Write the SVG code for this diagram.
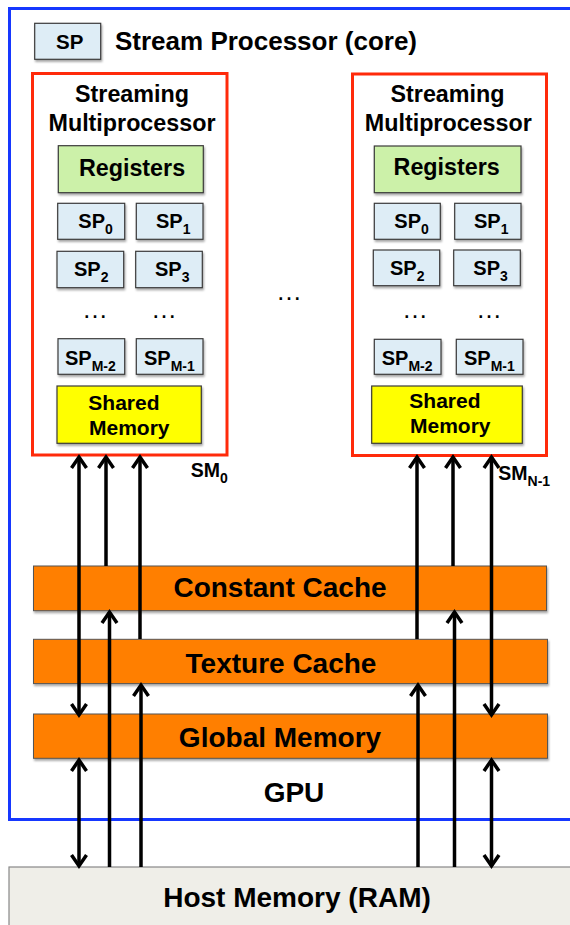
<svg xmlns="http://www.w3.org/2000/svg" width="570" height="925" viewBox="0 0 570 925">
<style>
text{font-family:"Liberation Sans",Arial,sans-serif;font-weight:bold;fill:#000}
.sp{fill:#deedf6;stroke:#3a3a3a;stroke-width:1.2}
.reg{fill:#ccf1a9;stroke:#3a3a3a;stroke-width:1.2}
.shm{fill:#ffff00;stroke:#3a3a3a;stroke-width:1.2}
.sm{fill:#fff;stroke:#ff2a0a;stroke-width:3}
.bar{fill:#ff7f00;stroke:#555;stroke-width:1}
.spt{font-size:20px}
.sub{font-size:14px}
.dots{font-weight:normal;font-size:26px;text-anchor:middle}
.big{font-size:28px;text-anchor:middle}
.smt{font-size:23.3px;text-anchor:middle}
.shr{font-size:21px}
.c{fill:none;stroke:#000;stroke-width:3.5}
</style>
<defs>
<filter id="sh" x="-10%" y="-10%" width="130%" height="140%">
<feDropShadow dx="1" dy="2" stdDeviation="1.2" flood-color="#000" flood-opacity="0.35"/>
</filter>
<marker id="ah" viewBox="-12 -10 14 20" markerWidth="14" markerHeight="20" markerUnits="userSpaceOnUse" refX="0" refY="0" orient="auto-start-reverse" overflow="visible">
<path d="M-11,-7.5 L0,0 L-11,7.5" fill="none" stroke="#000" stroke-width="3.5" stroke-linejoin="miter"/>
</marker>
</defs>
<rect width="570" height="925" fill="#fff"/>

<g id="host">
<rect x="9" y="867" width="575" height="70" fill="#efeee8" stroke="#888" stroke-width="1.2"/>
<text class="big" x="297" y="907">Host Memory (RAM)</text>
</g>

<g id="gpu">
<rect x="9.5" y="8.5" width="580" height="811" fill="none" stroke="#1638ff" stroke-width="3"/>
<text class="big" x="294" y="802">GPU</text>
</g>

<g id="legend">
<rect class="sp" x="34.7" y="23.3" width="66" height="36" filter="url(#sh)"/>
<text class="spt" x="56" y="49.3" style="font-size:20.5px">SP</text>
<text x="115" y="50" style="font-size:26px">Stream Processor (core)</text>
</g>

<g id="sm0">
<rect class="sm" x="32.5" y="73.5" width="194.5" height="381.5"/>
<text class="smt" x="132" y="101.7">Streaming</text>
<text class="smt" x="132" y="130.7">Multiprocessor</text>
<rect class="reg" x="58.3" y="145.7" width="145" height="47" filter="url(#sh)"/>
<text class="smt" x="132" y="176">Registers</text>
<rect class="sp" x="57.7" y="203.3" width="67" height="36" filter="url(#sh)"/>
<text class="spt" x="78.3" y="228.3">SP<tspan class="sub" dy="6">0</tspan></text>
<rect class="sp" x="136.3" y="203.3" width="66.7" height="36" filter="url(#sh)"/>
<text class="spt" x="156" y="228.3">SP<tspan class="sub" dy="6">1</tspan></text>
<rect class="sp" x="57" y="251.3" width="66.7" height="36.4" filter="url(#sh)"/>
<text class="spt" x="74" y="276">SP<tspan class="sub" dy="6">2</tspan></text>
<rect class="sp" x="135.7" y="251.3" width="66.6" height="36.4" filter="url(#sh)"/>
<text class="spt" x="155" y="276">SP<tspan class="sub" dy="6">3</tspan></text>
<text class="dots" x="95" y="317.5">…</text>
<text class="dots" x="164" y="317.5">…</text>
<rect class="sp" x="58" y="338.7" width="66.7" height="35.6" filter="url(#sh)"/>
<text class="spt" x="65" y="365">SP<tspan class="sub" dy="6">M-2</tspan></text>
<rect class="sp" x="136.3" y="338.7" width="66.7" height="35.6" filter="url(#sh)"/>
<text class="spt" x="144" y="365">SP<tspan class="sub" dy="6">M-1</tspan></text>
<rect class="shm" x="57" y="386" width="144.3" height="57.3" filter="url(#sh)"/>
<text class="shr" x="88.3" y="410">Shared</text>
<text class="shr" x="89" y="435">Memory</text>
<text x="190.7" y="477.3" style="font-size:19.5px">SM<tspan style="font-size:14px" dy="6">0</tspan></text>
</g>

<g id="smN">
<rect class="sm" x="352.5" y="74" width="194" height="381.5"/>
<text class="smt" x="447.5" y="101.7">Streaming</text>
<text class="smt" x="448.3" y="131">Multiprocessor</text>
<rect class="reg" x="374.3" y="146" width="146.7" height="46.7" filter="url(#sh)"/>
<text class="smt" x="446.7" y="175">Registers</text>
<rect class="sp" x="374.3" y="203.3" width="66" height="36" filter="url(#sh)"/>
<text class="spt" x="394.3" y="228.3">SP<tspan class="sub" dy="6">0</tspan></text>
<rect class="sp" x="454.7" y="203.3" width="66.3" height="36" filter="url(#sh)"/>
<text class="spt" x="474" y="228.3">SP<tspan class="sub" dy="6">1</tspan></text>
<rect class="sp" x="373.3" y="250" width="66.4" height="35.7" filter="url(#sh)"/>
<text class="spt" x="390" y="275">SP<tspan class="sub" dy="6">2</tspan></text>
<rect class="sp" x="453.7" y="250" width="66.6" height="35.7" filter="url(#sh)"/>
<text class="spt" x="473.3" y="275">SP<tspan class="sub" dy="6">3</tspan></text>
<text class="dots" x="415" y="317.5">…</text>
<text class="dots" x="489" y="317.5">…</text>
<rect class="sp" x="374.3" y="339.3" width="66.7" height="35" filter="url(#sh)"/>
<text class="spt" x="381.7" y="365">SP<tspan class="sub" dy="6">M-2</tspan></text>
<rect class="sp" x="456.3" y="339.3" width="66.7" height="35" filter="url(#sh)"/>
<text class="spt" x="464" y="365">SP<tspan class="sub" dy="6">M-1</tspan></text>
<rect class="shm" x="371.7" y="386" width="150.6" height="57.3" filter="url(#sh)"/>
<text class="shr" x="409.3" y="408.3">Shared</text>
<text class="shr" x="410" y="433.3">Memory</text>
<text x="498.3" y="480" style="font-size:19.5px">SM<tspan style="font-size:14px" dy="6">N-1</tspan></text>
</g>

<text class="dots" x="289" y="299.5">…</text>

<g id="constant-cache">
<rect class="bar" x="33.5" y="566" width="513" height="44.7" filter="url(#sh)"/>
<text class="big" x="280" y="596.7">Constant Cache</text>
</g>
<g id="texture-cache">
<rect class="bar" x="33.5" y="639.3" width="514" height="44.3" filter="url(#sh)"/>
<text class="big" x="281" y="672.7">Texture Cache</text>
</g>
<g id="global-memory">
<rect class="bar" x="33.5" y="714" width="514" height="44.3" filter="url(#sh)"/>
<text class="big" x="280" y="746.7">Global Memory</text>
</g>

<g id="connectors">
<line class="c" x1="79" y1="457" x2="79" y2="715" marker-start="url(#ah)" marker-end="url(#ah)"/>
<line class="c" x1="79" y1="760" x2="79" y2="866" marker-start="url(#ah)" marker-end="url(#ah)"/>
<line class="c" x1="106" y1="566" x2="106" y2="457" marker-end="url(#ah)"/>
<line class="c" x1="109.5" y1="867" x2="109.5" y2="612" marker-end="url(#ah)"/>
<line class="c" x1="140" y1="639" x2="140" y2="457" marker-end="url(#ah)"/>
<line class="c" x1="141" y1="867" x2="141" y2="685" marker-end="url(#ah)"/>
<line class="c" x1="417" y1="639" x2="417" y2="457" marker-end="url(#ah)"/>
<line class="c" x1="418" y1="867" x2="418" y2="685" marker-end="url(#ah)"/>
<line class="c" x1="453" y1="566" x2="453" y2="457" marker-end="url(#ah)"/>
<line class="c" x1="454.5" y1="867" x2="454.5" y2="612" marker-end="url(#ah)"/>
<line class="c" x1="491.5" y1="457" x2="491.5" y2="715" marker-start="url(#ah)" marker-end="url(#ah)"/>
<line class="c" x1="491.5" y1="760" x2="491.5" y2="866" marker-start="url(#ah)" marker-end="url(#ah)"/>
</g>
</svg>
